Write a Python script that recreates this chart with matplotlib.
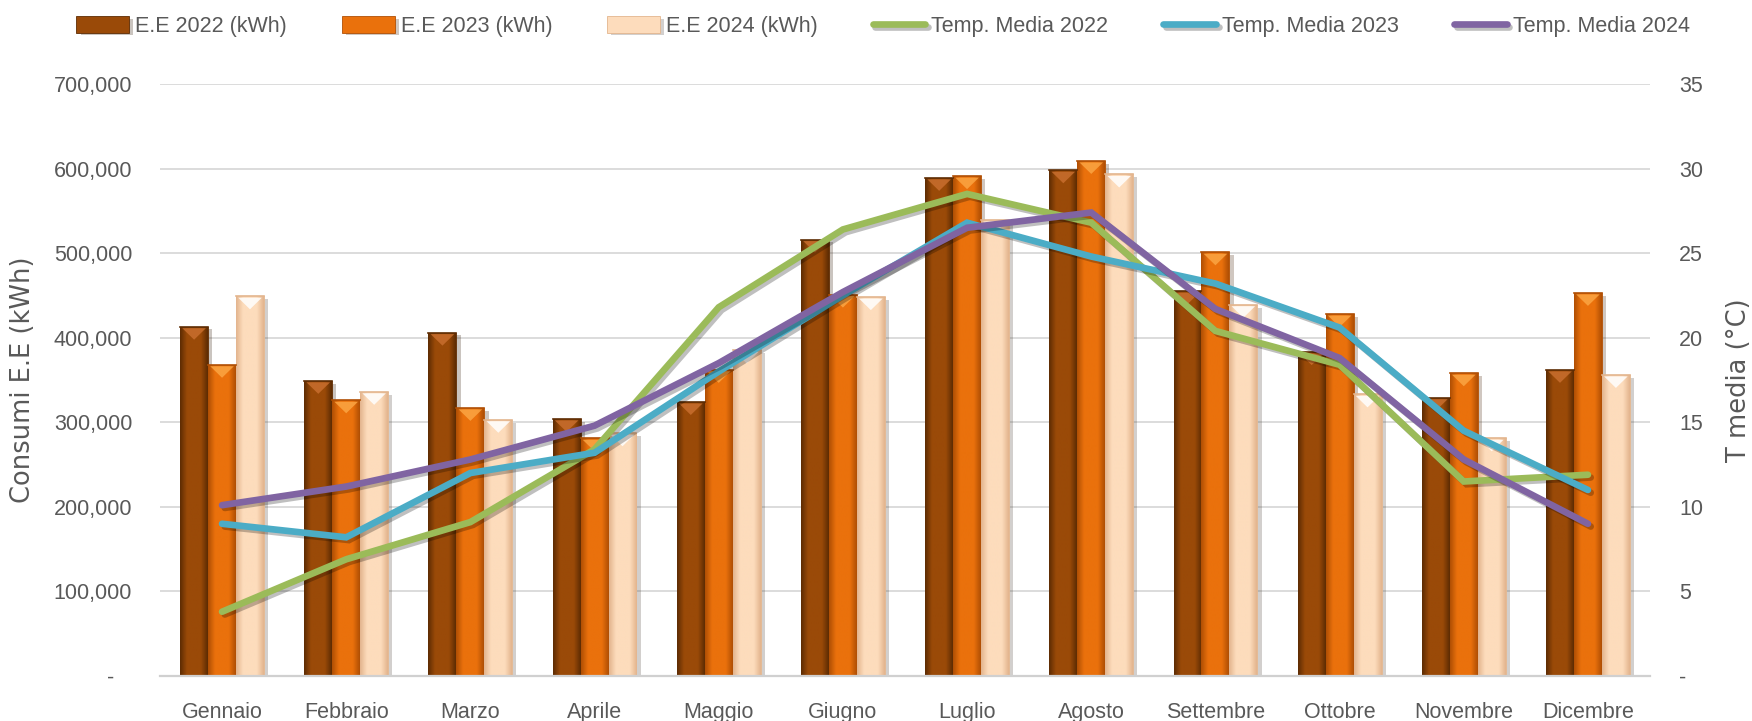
import matplotlib
matplotlib.use("Agg")
import matplotlib.pyplot as plt
import matplotlib.patheffects as pe
from matplotlib.colors import LinearSegmentedColormap
from matplotlib.ticker import FuncFormatter
import numpy as np

# dati
mesi = ["Gennaio", "Febbraio", "Marzo", "Aprile", "Maggio", "Giugno",
        "Luglio", "Agosto", "Settembre", "Ottobre", "Novembre", "Dicembre"]

ee_2022 = [413000, 349000, 406000, 304000, 324000, 516000, 589000, 598000, 455000, 383000, 329000, 362000]
ee_2023 = [368000, 326000, 317000, 281000, 362000, 451000, 591000, 609000, 501000, 428000, 358000, 453000]
ee_2024 = [449000, 336000, 303000, 287000, 385000, 448000, 539000, 593000, 439000, 333000, 281000, 356000]

temp_2022 = [3.8, 6.9, 9.1, 13.4, 21.8, 26.4, 28.5, 26.8, 20.4, 18.4, 11.5, 11.9]
temp_2023 = [9.0, 8.2, 12.0, 13.2, 18.0, 22.5, 26.8, 24.8, 23.2, 20.6, 14.5, 11.0]
temp_2024 = [10.1, 11.2, 12.8, 14.8, 18.5, 22.7, 26.5, 27.4, 21.7, 18.8, 12.8, 9.0]

bar_labels = ["E.E 2022 (kWh)", "E.E 2023 (kWh)", "E.E 2024 (kWh)"]
line_labels = ["Temp. Media 2022", "Temp. Media 2023", "Temp. Media 2024"]

# colori: (base, bordo scuro, punta chiara)
bar_cols = [("#9A4A08", "#5E2C03", "#C86E2E"),
            ("#EA710C", "#B04F04", "#FBA543"),
            ("#FDDCBC", "#E3B58E", "#FFFFFF")]
line_cols = ["#9BBB59", "#4BACC6", "#8064A2"]

txt = "#595959"
grid = "#D9D9D9"
plt.rcParams["font.family"] = ["Liberation Sans", "DejaVu Sans"]

fig = plt.figure(figsize=(17.52, 7.21), dpi=100)
ax = fig.add_axes([0.0913, 0.0624, 0.8505, 0.8211])
ax2 = ax.twinx()

x = np.arange(len(mesi))
w = 0.225
ymax = 700000
grad = np.linspace(0, 1, 60).reshape(1, -1)
px_per_unit = ax.get_position().height * fig.get_figheight() * fig.dpi / ymax

bar_handles = []
for i, vals in enumerate([ee_2022, ee_2023, ee_2024]):
    base, dark, light = bar_cols[i]
    bars = ax.bar(x + (i - 1) * w, vals, w, color=base, label=bar_labels[i], zorder=2,
                  edgecolor=dark, linewidth=0.6)
    bar_handles.append(bars)
    cmap = LinearSegmentedColormap.from_list("b%d" % i, [dark, base, base, base, dark])
    for p in bars.patches:
        p.set_path_effects([pe.SimplePatchShadow(offset=(3, -2), alpha=0.25), pe.Normal()])
        x0, h, bw = p.get_x(), p.get_height(), p.get_width()
        im = ax.imshow(grad, extent=[x0, x0 + bw, 0, h], aspect="auto", cmap=cmap,
                       zorder=2.1, interpolation="bilinear")
        im.set_clip_path(p)
        th = 13 / px_per_unit
        ax.fill([x0 + bw * 0.08, x0 + bw * 0.92, x0 + bw / 2],
                [h - 1.5 / px_per_unit, h - 1.5 / px_per_unit, h - th],
                color=light, alpha=0.85, zorder=2.2, lw=0)
        ax.plot([x0, x0 + bw], [h, h], color=dark, lw=1.2, zorder=2.3)

line_handles = []
for i, t in enumerate([temp_2022, temp_2023, temp_2024]):
    ln, = ax2.plot(x, t, color=line_cols[i], lw=4.8, label=line_labels[i],
                   solid_capstyle="round", solid_joinstyle="miter", zorder=3,
                   path_effects=[pe.SimpleLineShadow(offset=(2, -2), alpha=0.25), pe.Normal()])
    line_handles.append(ln)

ax.set_xlim(-0.5, len(mesi) - 0.5)
ax.set_ylim(0, ymax)
ax2.set_ylim(0, 35)
ax.set_yticks(np.arange(0, ymax + 1, 100000))
ax2.set_yticks(np.arange(0, 36, 5))
ax.set_xticks(x)
ax.set_xticklabels(mesi)

ax.yaxis.set_major_formatter(FuncFormatter(lambda v, p: "-   " if v == 0 else f"{v:,.0f}"))
ax2.yaxis.set_major_formatter(FuncFormatter(lambda v, p: "-" if v == 0 else f"{v:.0f}"))

ax.set_axisbelow(True)
ax.grid(axis="y", color=grid, lw=1.3, zorder=0)
for a in (ax, ax2):
    for s in a.spines.values():
        s.set_visible(False)
ax.spines["bottom"].set_visible(True)
ax.spines["bottom"].set_color("#D0D0D0")
ax.spines["bottom"].set_linewidth(1.6)

ax.tick_params(axis="y", length=0, pad=20, labelsize=15.5, labelcolor=txt)
ax.tick_params(axis="x", length=0, pad=19, labelsize=15.5, labelcolor=txt)
ax2.tick_params(axis="y", length=0, pad=21, labelsize=15.5, labelcolor=txt)

ax.set_ylabel("Consumi E.E (kWh)", fontsize=18.5, color=txt, family="DejaVu Sans")
ax2.set_ylabel("T media (°C)", fontsize=18.5, color=txt, family="DejaVu Sans")
ax.yaxis.set_label_coords(-0.083, 0.5)
ax2.yaxis.set_label_coords(1.051, 0.5)

fig.legend(bar_handles + line_handles, bar_labels + line_labels, loc="upper center",
           bbox_to_anchor=(0.504, 1.005), ncol=6, frameon=False, fontsize=15.5,
           labelcolor=txt, handlelength=2.45, handleheight=0.8, handletextpad=0.28,
           columnspacing=2.55)

fig.savefig("out.png", dpi=100)
